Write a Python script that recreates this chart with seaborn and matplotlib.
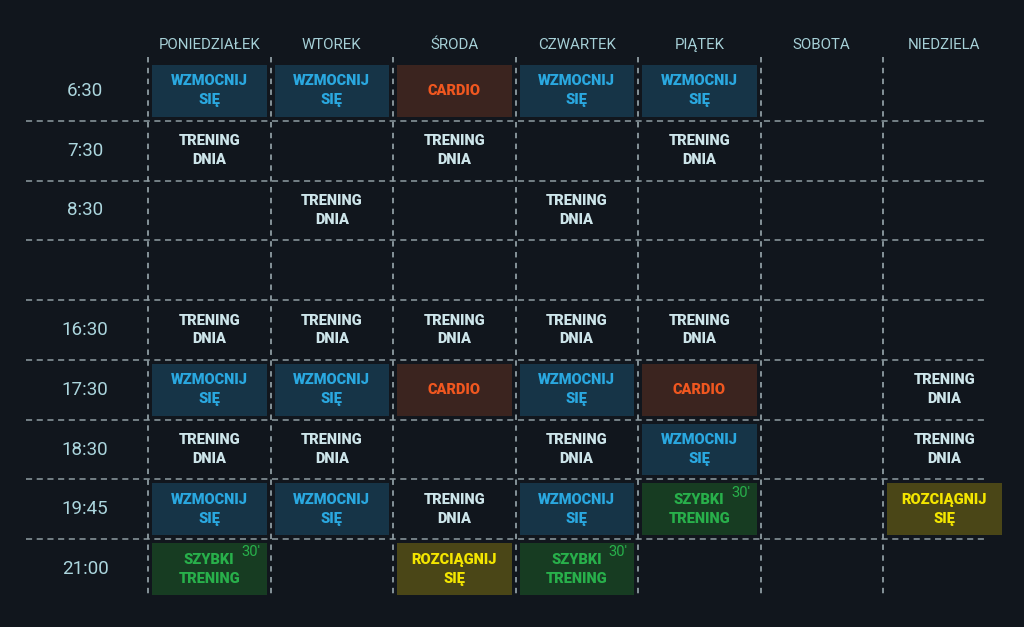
import numpy as np
import matplotlib.pyplot as plt
from matplotlib.colors import ListedColormap
import seaborn as sns

sns.set_style("dark")
plt.rcParams["font.family"] = ["Roboto", "DejaVu Sans"]

BG = "#11161d"

days = ["PONIEDZIAŁEK", "WTOREK", "ŚRODA", "CZWARTEK", "PIĄTEK", "SOBOTA", "NIEDZIELA"]
hours = ["6:30", "7:30", "8:30", "", "16:30", "17:30", "18:30", "19:45", "21:00"]

# W = wzmocnij się, C = cardio, S = szybki trening, R = rozciągnij się, T = trening dnia
schedule = [
    ["W", "W", "C", "W", "W", "", ""],
    ["T", "", "T", "", "T", "", ""],
    ["", "T", "", "T", "", "", ""],
    ["", "", "", "", "", "", ""],
    ["T", "T", "T", "T", "T", "", ""],
    ["W", "W", "C", "W", "C", "", "T"],
    ["T", "T", "", "T", "W", "", "T"],
    ["W", "W", "T", "W", "S", "", "R"],
    ["S", "", "R", "S", "", "", ""],
]

activity_codes = ["W", "C", "S", "R"]
activity_labels = {
    "W": "WZMOCNIJ\nSIĘ",
    "C": "CARDIO",
    "S": "SZYBKI\nTRENING",
    "R": "ROZCIĄGNIJ\nSIĘ",
    "T": "TRENING\nDNIA",
}
box_colors = ["#163447", "#3b241f", "#173c22", "#4a4617"]
text_colors = {"W": "#2aa8e0", "C": "#f0571f", "S": "#28b04b", "R": "#f4e600", "T": "#cde5ea"}
short_tag = "30′"

grid = np.array([[activity_codes.index(c) + 1 if c in activity_codes else 0 for c in row]
                 for row in schedule], dtype=float)
mask = grid == 0

fig = plt.figure(figsize=(10.24, 6.27), dpi=100, facecolor=BG)
ax = fig.add_axes([148 / 1024, 1 - 599 / 627, 857.5 / 1024, 538 / 627])
ax.set_facecolor(BG)

sns.heatmap(grid, mask=mask, cmap=ListedColormap(box_colors), vmin=0.5, vmax=4.5,
            cbar=False, linewidths=4.5, linecolor=BG, ax=ax)

# dashed grid
for y in range(1, len(hours)):
    ax.plot([-1.0, 6.83], [y, y], color="#8f9da3", lw=1.1, dashes=(4, 3),
            clip_on=False, zorder=3)
for x in range(len(days)):
    ax.plot([x, x], [-0.07, 8.98], color="#8f9da3", lw=1.3, dashes=(3, 3),
            clip_on=False, zorder=3)

for i, row in enumerate(schedule):
    for j, code in enumerate(row):
        if not code:
            continue
        ax.text(j + 0.5, i + 0.5, activity_labels[code], ha="center", va="center",
                multialignment="center", linespacing=1.45, fontsize=10.5,
                fontweight="heavy", color=text_colors[code], zorder=4)
        if code == "S":
            ax.text(j + 0.84, i + 0.22, short_tag, ha="center", va="center",
                    fontsize=10.5, color=text_colors[code], zorder=4)

for j, d in enumerate(days):
    ax.text(j + 0.5, -0.27, d, ha="center", va="center", fontsize=10.8,
            color="#a6d0d7", clip_on=False)
for i, h in enumerate(hours):
    ax.text(-0.514, i + 0.5, h, ha="center", va="center", fontsize=13.5,
            color="#acd6de", clip_on=False)

ax.set_xticks([])
ax.set_yticks([])
ax.set_xlabel("")
ax.set_ylabel("")
for s in ax.spines.values():
    s.set_visible(False)

fig.savefig("out.png", dpi=100, facecolor=BG)
